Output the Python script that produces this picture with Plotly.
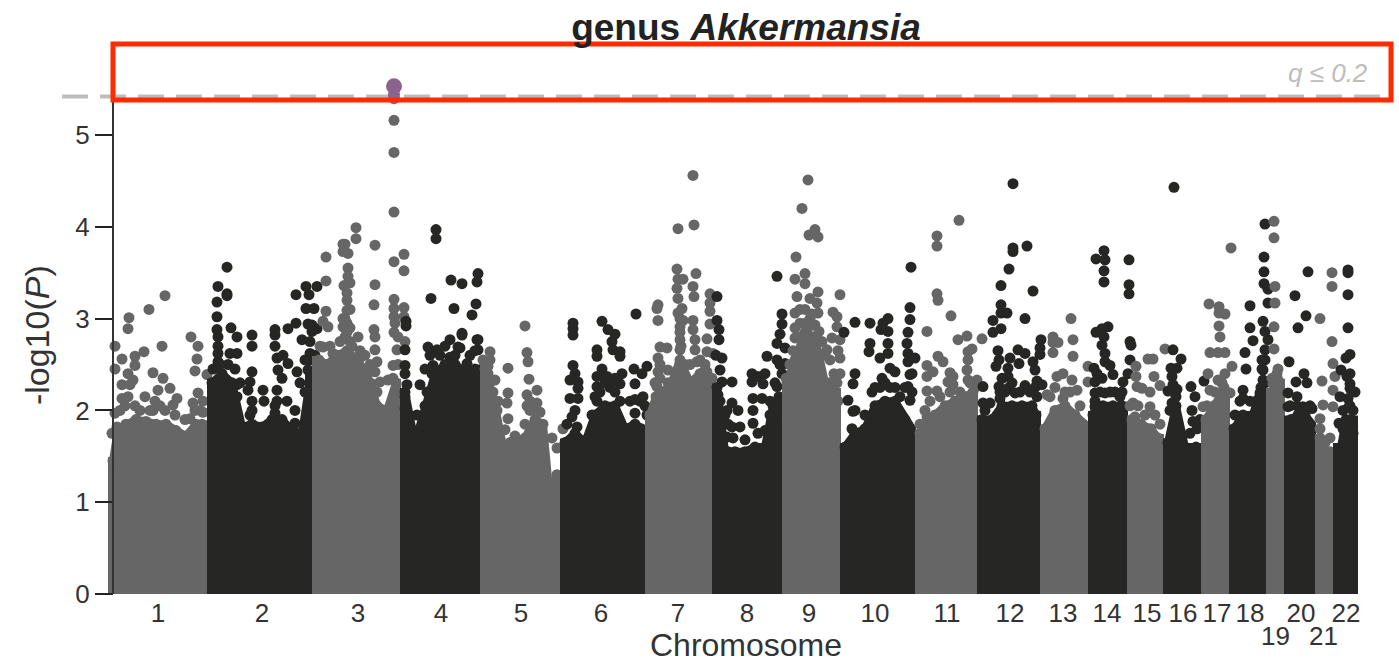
import plotly.graph_objects as go

GRAY = "#666666"
DARK = "#262624"
PURPLE = "#8A648F"
THRESHOLD = 5.42

TICK_NAMES = ["1","2","3","4","5","6","7","8","9","10","11","12","13","14","15","16","17","18","20","22"]
TICK_POS = [158,262,358,441,521,601,678,747,809,875,947,1010,1063,1107,1147,1183,1217,1250,1301,1346]
LOW_TICK_NAMES = ["19","21"]
LOW_TICK_POS = [1275,1323]
TOP_HITS = [(394,5.53),(394,5.44),(394,5.40)]
CHR_EDGES = [108,207,312,400,480,560,645,712,782,840,915,977,1040,1088,1127,1163,1201,1229,1266,1284,1315,1333,1357]

# body: (position, height of the solid mass); peaks: (position, -log10 P)
C1_BODY = [(113,1.45),(118,1.8),(126,1.85),(136,1.9),(146,1.88),(156,1.85),(166,1.85),(176,1.78),(186,1.72),(196,1.85),(202,1.85)]
C1_PEAKS = [(129,3.01),(149,3.10),(165,3.25),(128,2.89),(115,2.70),(144,2.64),(135,2.59),(122,2.56),(135,2.49),(115,2.45),(128,2.40),(162,2.70),(191,2.80),(198,2.70),(197,2.56),(195,2.43),(207,2.39),(153,2.41),(163,2.35),(158,2.22),(170,2.24),(177,2.13),(173,2.06),(145,2.15),(122,2.28),(130,2.28),(122,2.13),(198,2.19),(193,2.08),(203,2.10),(190,1.91),(115,1.97),(117,1.82),(153,2.00),(133,2.33),(125,2.05),(135,2.05),(150,2.0),(165,2.0),(112,1.75),(120,2.0),(128,2.15),(140,2.0),(155,2.1),(160,2.05),(175,1.95),(185,1.9),(195,2.0),(200,2.0),(203,1.98)]
C2_BODY = [(212,2.3),(222,2.4),(232,2.3),(242,1.82),(252,1.85),(262,1.82),(272,1.9),(282,1.9),(292,1.78),(302,1.75),(311,2.4)]
C2_PEAKS = [(227,3.56),(218,3.35),(227,3.27),(227,3.25),(217,3.18),(217,3.02),(231,2.90),(217,2.88),(275,2.88),(288,2.89),(296,2.95),(296,3.26),(306,3.35),(317,3.35),(309,3.26),(306,3.11),(314,3.11),(308,2.94),(312,2.93),(317,2.89),(218,2.80),(218,2.70),(218,2.62),(218,2.53),(230,2.62),(237,2.62),(237,2.80),(252,2.82),(252,2.70),(275,2.82),(275,2.70),(252,2.42),(250,2.31),(248,2.22),(263,2.22),(277,2.22),(282,2.35),(277,2.57),(283,2.60),(288,2.51),(297,2.42),(302,2.77),(310,2.62),(312,2.86),(308,2.44),(278,2.44),(264,2.10),(277,2.10),(287,2.10),(252,2.10),(250,1.95),(275,1.97),(295,1.86),(237,2.28),(237,2.15),(310,2.75),(310,2.55),(213,2.45),(220,2.5),(228,2.5),(235,2.45),(240,2.3),(315,2.6),(305,2.55),(314,2.4),(252,2.0),(275,2.05),(305,2.2),(295,2.0),(300,2.3)]
C3_BODY = [(319,2.55),(327,2.5),(337,2.6),(347,2.65),(357,2.55),(367,2.4),(377,2.05),(387,2.0),(396,2.3)]
C3_PEAKS = [(356,3.99),(356,3.87),(345,3.81),(343,3.81),(343,3.73),(348,3.71),(326,3.67),(375,3.80),(404,3.70),(394,3.62),(404,3.52),(348,3.55),(348,3.46),(350,3.39),(344,3.36),(347,3.28),(326,3.41),(375,3.37),(347,3.20),(347,3.09),(326,3.08),(374,3.15),(394,3.21),(394,3.11),(404,3.12),(394,3.02),(404,3.02),(323,2.97),(328,2.91),(347,2.95),(343,2.91),(374,2.88),(395,2.95),(394,5.16),(394,4.81),(394,4.16),(375,2.80),(375,2.66),(377,2.53),(375,2.42),(397,2.66),(393,2.49),(405,2.75),(358,2.80),(360,2.57),(333,2.62),(323,2.69),(372,2.29),(380,2.31),(388,2.33),(347,2.85),(350,2.75),(394,2.85),(398,2.8),(320,2.7),(330,2.7),(340,2.75),(345,2.8),(352,2.7),(360,2.65),(365,2.6),(370,2.5),(377,2.2),(393,2.35),(398,2.5),(345,3.0),(350,3.1),(350,2.9),(343,3.0)]
C4_BODY = [(405,2.2),(415,1.65),(425,2.05),(435,2.4),(445,2.5),(455,2.5),(465,2.42),(475,2.45)]
C4_PEAKS = [(436,3.97),(436,3.87),(431,3.22),(451,3.42),(462,3.38),(478,3.49),(477,3.40),(476,3.16),(454,3.11),(472,3.04),(406,2.97),(406,2.92),(462,2.84),(478,2.77),(478,2.66),(460,2.68),(405,2.66),(405,2.49),(405,2.40),(407,2.28),(405,2.15),(405,2.02),(417,1.95),(420,2.28),(428,2.69),(437,2.66),(450,2.77),(458,2.69),(462,2.82),(477,2.77),(433,2.49),(450,2.58),(467,2.51),(425,2.45),(430,2.6),(440,2.6),(445,2.7),(455,2.6),(470,2.6),(475,2.65),(427,2.2),(432,2.4)]
C5_BODY = [(485,2.45),(495,2.05),(505,1.5),(515,1.6),(525,1.7),(535,1.9),(543,1.85),(550,1.02),(557,1.3)]
C5_PEAKS = [(525,2.92),(527,2.63),(528,2.53),(508,2.46),(490,2.64),(488,2.48),(495,2.33),(529,2.34),(537,2.22),(508,2.19),(507,2.08),(527,2.17),(537,2.08),(497,2.00),(508,1.91),(505,1.79),(504,1.62),(552,1.70),(563,1.80),(557,1.59),(490,2.55),(527,2.05),(530,2.0),(483,2.55),(488,2.4),(493,2.2),(498,2.1),(490,2.3),(530,2.1),(535,2.0),(540,1.98),(525,1.85),(515,1.72),(510,1.65),(507,1.58)]
C6_BODY = [(565,1.65),(575,1.75),(585,1.65),(595,1.95),(605,2.05),(615,2.05),(625,1.8),(635,1.85),(641,1.8)]
C6_PEAKS = [(573,2.95),(573,2.89),(573,2.82),(602,2.97),(608,2.88),(615,2.83),(612,2.75),(597,2.66),(597,2.59),(613,2.66),(620,2.64),(620,2.59),(636,3.05),(573,2.49),(575,2.40),(570,2.33),(578,2.31),(578,2.24),(602,2.45),(597,2.37),(597,2.26),(607,2.37),(622,2.40),(620,2.29),(634,2.45),(647,2.48),(642,2.40),(570,2.13),(578,2.13),(575,2.00),(572,1.93),(597,2.10),(592,1.95),(635,2.29),(643,2.15),(635,1.97),(647,1.95),(577,1.82),(610,2.25),(615,2.35),(635,2.12),(595,2.15),(600,2.2),(605,2.3),(610,2.3),(615,2.2),(620,2.1),(630,2.1),(640,2.1),(645,2.05),(567,1.85)]
C7_BODY = [(650,1.95),(656,2.15),(660,2.2),(670,2.25),(680,2.55),(690,2.3),(700,2.4),(708,2.25)]
C7_PEAKS = [(693,4.56),(678,3.98),(694,4.02),(677,3.54),(696,3.49),(678,3.43),(683,3.43),(677,3.33),(693,3.35),(694,3.24),(710,3.27),(710,3.17),(710,3.08),(678,3.22),(682,3.11),(678,3.06),(683,2.98),(658,3.15),(657,3.11),(658,2.98),(693,2.98),(710,2.94),(680,2.91),(693,2.88),(707,2.78),(680,2.77),(695,2.77),(695,2.66),(660,2.69),(667,2.68),(707,2.64),(713,2.62),(658,2.57),(680,2.66),(658,2.42),(668,2.44),(697,2.53),(707,2.42),(657,2.26),(680,2.51),(680,3.0),(680,2.85),(681,2.7),(679,2.45),(685,2.5),(668,2.3),(660,2.35),(660,2.5),(655,2.3),(672,2.3),(690,2.5),(700,2.55),(705,2.5),(712,2.35),(708,2.3)]
C8_BODY = [(717,2.25),(725,1.55),(735,1.55),(745,1.55),(755,1.6),(765,1.6),(773,2.05),(779,2.15)]
C8_PEAKS = [(717,3.24),(717,2.98),(719,2.88),(719,2.77),(722,2.57),(720,2.44),(722,2.31),(732,2.31),(718,2.17),(732,2.08),(738,2.00),(727,2.00),(752,2.40),(752,2.31),(758,2.37),(765,2.40),(763,2.29),(767,2.59),(777,3.46),(782,3.05),(782,2.94),(780,2.83),(777,2.73),(785,2.68),(777,2.55),(785,2.51),(782,2.40),(777,2.26),(753,2.13),(762,2.13),(770,2.10),(753,2.00),(753,1.86),(772,1.88),(732,1.82),(727,1.71),(740,1.82),(728,1.55),(716,2.6),(720,2.1),(725,1.95),(728,1.85),(733,1.7),(775,2.3),(780,2.5),(778,2.05),(758,1.75),(770,1.95),(765,1.78),(745,1.68)]
C9_BODY = [(787,2.3),(795,2.55),(805,2.85),(815,2.8),(825,2.3),(834,2.2)]
C9_PEAKS = [(808,4.51),(802,4.20),(815,3.97),(809,3.91),(818,3.89),(796,3.67),(805,3.49),(795,3.43),(805,3.38),(818,3.29),(797,3.24),(810,3.22),(840,3.26),(817,3.17),(818,3.06),(795,3.06),(833,3.07),(837,3.02),(837,2.91),(815,2.93),(819,2.86),(832,2.79),(840,2.77),(795,2.79),(827,2.66),(840,2.57),(840,2.40),(792,2.26),(827,2.17),(827,2.06),(805,3.1),(810,3.0),(805,2.95),(838,2.65),(800,3.1),(800,2.95),(808,2.9),(795,2.9),(812,3.05),(815,2.8),(822,2.75),(825,2.6),(800,2.8),(790,2.5),(793,2.65),(830,2.55),(834,2.4),(837,2.3),(830,2.3),(838,2.1),(786,2.35)]
C10_BODY = [(845,1.6),(855,1.75),(865,1.8),(875,2.05),(885,2.1),(895,2.1),(905,1.9),(910,1.8)]
C10_PEAKS = [(855,2.96),(870,2.95),(844,2.85),(888,3.00),(883,2.95),(881,2.88),(888,2.86),(911,3.56),(910,3.12),(910,2.99),(908,2.85),(907,2.73),(888,2.73),(870,2.73),(869,2.64),(888,2.62),(880,2.57),(908,2.62),(908,2.53),(915,2.57),(890,2.46),(895,2.42),(910,2.39),(882,2.35),(855,2.40),(853,2.29),(848,2.11),(853,1.99),(872,2.20),(908,2.26),(910,2.11),(875,2.25),(880,2.25),(885,2.3),(890,2.25),(895,2.25),(900,2.15),(905,2.25),(912,2.4),(912,2.2),(855,2.0),(852,1.8),(865,1.95)]
C11_BODY = [(920,1.75),(925,1.85),(935,1.95),(945,2.05),(955,2.1),(965,2.15),(973,2.2)]
C11_PEAKS = [(959,4.07),(937,3.90),(937,3.79),(937,3.27),(938,3.20),(951,3.03),(927,2.86),(967,2.81),(958,2.77),(982,2.78),(938,2.59),(943,2.53),(972,2.67),(968,2.64),(968,2.55),(967,2.44),(927,2.49),(933,2.42),(927,2.37),(950,2.41),(953,2.37),(948,2.31),(953,2.28),(927,2.21),(937,2.21),(977,2.33),(968,2.33),(927,1.93),(930,2.1),(940,2.15),(950,2.2),(960,2.2),(970,2.3),(975,2.25),(925,2.0),(920,1.85)]
C12_BODY = [(982,1.9),(992,1.9),(1002,2.05),(1012,2.05),(1022,2.05),(1032,2.05),(1036,1.95)]
C12_PEAKS = [(1013,4.47),(1013,3.77),(1013,3.73),(1027,3.79),(1009,3.54),(1001,3.36),(1033,3.30),(1001,3.15),(1007,3.06),(1001,3.06),(1025,3.00),(993,2.98),(1001,2.89),(993,2.85),(1041,2.77),(1040,2.68),(1040,2.61),(998,2.65),(1018,2.66),(1025,2.62),(1010,2.57),(999,2.55),(1019,2.51),(1033,2.53),(996,2.48),(1035,2.44),(1008,2.46),(1008,2.37),(1002,2.35),(1037,2.32),(1042,2.28),(983,2.26),(999,2.26),(1025,2.27),(1008,2.24),(1015,2.19),(1000,2.13),(1037,2.15),(983,2.08),(990,2.08),(985,2.0),(1005,2.2),(1020,2.2),(1030,2.2),(1012,2.3),(1035,2.25),(1000,2.2)]
C13_BODY = [(1045,1.8),(1055,2.0),(1065,2.05),(1075,1.95),(1083,1.85)]
C13_PEAKS = [(1071,3.00),(1053,2.80),(1058,2.74),(1053,2.63),(1073,2.77),(1073,2.59),(1088,2.48),(1053,2.74),(1063,2.40),(1057,2.37),(1072,2.33),(1077,2.22),(1047,2.17),(1063,2.13),(1088,2.31),(1050,2.15),(1055,2.25),(1065,2.2),(1070,2.2),(1080,2.05)]
C14_BODY = [(1093,1.95),(1103,2.05),(1113,2.05),(1122,2.05)]
C14_PEAKS = [(1104,3.74),(1096,3.65),(1105,3.64),(1104,3.52),(1104,3.40),(1129,3.64),(1129,3.37),(1129,3.27),(1108,2.91),(1102,2.89),(1096,2.85),(1102,2.71),(1105,2.62),(1105,2.53),(1130,2.75),(1131,2.71),(1130,2.55),(1094,2.46),(1110,2.49),(1113,2.39),(1095,2.31),(1123,2.31),(1128,2.40),(1095,2.19),(1105,2.19),(1120,2.15),(1095,2.04),(1104,2.8),(1102,2.35),(1095,2.1),(1100,2.2),(1110,2.2),(1115,2.2),(1122,2.2),(1097,2.4)]
C15_BODY = [(1132,1.9),(1141,1.85),(1151,1.8),(1158,1.7)]
C15_PEAKS = [(1136,2.48),(1136,2.37),(1148,2.56),(1153,2.56),(1154,2.37),(1165,2.67),(1137,2.26),(1142,2.24),(1150,2.20),(1160,2.27),(1150,2.04),(1133,2.08),(1135,1.93),(1130,2.05),(1138,2.05),(1145,1.95),(1155,1.95),(1160,1.85)]
C16_BODY = [(1168,1.65),(1176,2.05),(1185,1.6),(1196,1.6)]
C16_PEAKS = [(1174,4.43),(1173,2.66),(1181,2.56),(1171,2.46),(1177,2.46),(1172,2.37),(1168,2.21),(1177,2.23),(1191,2.26),(1195,2.15),(1204,2.32),(1192,2.00),(1172,2.08),(1200,1.90),(1193,1.88),(1176,2.15),(1170,2.0),(1173,2.28),(1190,1.75),(1197,1.8)]
C17_BODY = [(1206,1.9),(1214,2.05),(1224,2.25)]
C17_PEAKS = [(1231,3.77),(1209,3.16),(1219,3.13),(1225,3.05),(1219,3.06),(1219,2.92),(1220,2.80),(1210,2.63),(1218,2.63),(1225,2.63),(1208,2.40),(1232,2.48),(1218,2.33),(1210,2.22),(1230,2.19),(1203,2.04),(1225,2.4),(1222,2.3),(1215,2.2),(1207,2.05)]
C18_BODY = [(1234,1.8),(1243,1.95),(1253,1.95),(1261,2.25)]
C18_PEAKS = [(1250,3.14),(1250,2.90),(1253,2.76),(1245,2.63),(1246,2.45),(1243,2.22),(1243,2.13),(1265,4.03),(1264,3.67),(1264,3.51),(1264,3.38),(1268,3.32),(1268,3.17),(1263,2.97),(1265,2.86),(1268,2.77),(1265,2.66),(1265,2.55),(1263,2.44),(1263,2.33),(1260,2.19),(1240,2.1),(1250,2.1),(1256,2.1),(1262,2.45),(1262,2.55),(1265,2.3),(1235,1.95)]
C19_BODY = [(1272,2.2),(1278,2.3)]
C19_PEAKS = [(1274,4.06),(1274,3.88),(1275,3.35),(1275,3.17),(1274,2.91),(1274,2.67),(1277,2.40),(1273,2.29),(1278,2.33),(1278,2.45),(1272,2.35)]
C20_BODY = [(1291,1.9),(1298,1.95),(1305,1.95),(1310,1.85)]
C20_PEAKS = [(1308,3.51),(1295,3.25),(1306,3.03),(1298,2.90),(1289,2.53),(1304,2.40),(1296,2.31),(1307,2.30),(1288,2.19),(1297,2.15),(1288,2.04),(1303,2.04),(1312,2.02),(1290,2.05),(1297,2.05),(1310,2.05)]
C21_BODY = [(1320,1.7),(1325,1.55),(1330,1.55)]
C21_PEAKS = [(1320,3.00),(1322,2.32),(1323,2.06),(1320,1.91),(1332,3.50),(1332,3.35),(1332,2.75),(1333,2.51),(1335,2.37),(1333,2.22),(1333,2.04),(1320,1.8),(1325,1.65),(1330,1.7)]
C22_BODY = [(1341,1.6),(1346,1.9),(1351,1.9)]
C22_PEAKS = [(1348,3.53),(1348,3.50),(1348,3.26),(1348,2.90),(1350,2.61),(1346,2.57),(1341,2.44),(1347,2.37),(1350,2.29),(1350,2.24),(1340,2.15),(1348,2.13),(1349,2.04),(1339,1.86),(1343,2.0),(1350,2.05),(1353,2.0),(1355,2.2),(1350,2.4),(1343,1.8),(1353,1.75)]

BODIES = [C1_BODY,C2_BODY,C3_BODY,C4_BODY,C5_BODY,C6_BODY,C7_BODY,C8_BODY,C9_BODY,C10_BODY,C11_BODY,C12_BODY,C13_BODY,C14_BODY,C15_BODY,C16_BODY,C17_BODY,C18_BODY,C19_BODY,C20_BODY,C21_BODY,C22_BODY]
PEAKS = [C1_PEAKS,C2_PEAKS,C3_PEAKS,C4_PEAKS,C5_PEAKS,C6_PEAKS,C7_PEAKS,C8_PEAKS,C9_PEAKS,C10_PEAKS,C11_PEAKS,C12_PEAKS,C13_PEAKS,C14_PEAKS,C15_PEAKS,C16_PEAKS,C17_PEAKS,C18_PEAKS,C19_PEAKS,C20_PEAKS,C21_PEAKS,C22_PEAKS]

W, H = 1399, 662
PLOT_BOTTOM = 600
PX_PER_UNIT = 91.8
ZERO_PX = 594
Y_RANGE = [-(PLOT_BOTTOM - ZERO_PX) / PX_PER_UNIT, ZERO_PX / PX_PER_UNIT]

fig = go.Figure()
for i, (body, peaks) in enumerate(zip(BODIES, PEAKS)):
    color = GRAY if i % 2 == 0 else DARK
    left, right = CHR_EDGES[i] + 4, CHR_EDGES[i + 1] - 3
    bx = [p[0] for p in body]
    by = [p[1] for p in body]
    fig.add_trace(go.Scatter(
        x=[left, left] + bx + [right, right], y=[0, by[0]] + by + [by[-1], 0],
        mode="lines", fill="toself", fillcolor=color,
        line=dict(color=color, width=8, shape="linear"),
        showlegend=False, hoverinfo="skip"))
    dots = body + peaks
    fig.add_trace(go.Scatter(
        x=[p[0] for p in dots], y=[p[1] for p in dots], mode="markers",
        marker=dict(color=color, size=11, line=dict(width=0)),
        showlegend=False, cliponaxis=False))

fig.add_trace(go.Scatter(
    x=[p[0] for p in TOP_HITS], y=[p[1] for p in TOP_HITS], mode="markers",
    marker=dict(color=PURPLE, size=[16, 12, 12], opacity=1, line=dict(width=0)),
    showlegend=False))

FONT = "Liberation Sans"
INK = "#333333"
annotations = [
    dict(x=n_x, y=(PLOT_BOTTOM - 636) / PLOT_BOTTOM, xref="x", yref="paper", text=n, showarrow=False,
         font=dict(family=FONT, size=26, color=INK), xanchor="center", yanchor="middle")
    for n, n_x in zip(LOW_TICK_NAMES, LOW_TICK_POS)
]
annotations += [
    dict(x=746, y=(PLOT_BOTTOM - 644.5) / PLOT_BOTTOM, xref="x", yref="paper", text="Chromosome", showarrow=False,
         font=dict(family=FONT, size=32, color=INK), xanchor="center", yanchor="middle"),
    dict(x=37, y=2.82, xref="x", yref="y", text="-log10(<i>P</i>)", textangle=-90, showarrow=False,
         font=dict(family=FONT, size=34, color=INK), xanchor="center", yanchor="middle"),
    dict(x=1370, y=5.67, xref="x", yref="y", text="<i>q ≤ 0.2</i>", showarrow=False,
         font=dict(family=FONT, size=26, color="#BDBDBD"), xanchor="right", yanchor="middle"),
]

shapes = [
    dict(type="line", xref="x", yref="y", x0=62, x1=1392, y0=THRESHOLD, y1=THRESHOLD,
         line=dict(color="#BDBDBD", width=4, dash="26px,12px"), layer="below"),
    dict(type="line", xref="x", yref="y", x0=113, x1=113, y0=0, y1=THRESHOLD,
         line=dict(color="#333333", width=2)),
    dict(type="rect", xref="x", yref="y", x0=113, x1=1391, y0=5.38, y1=5.99,
         line=dict(color="#FF2A00", width=5), fillcolor="rgba(0,0,0,0)"),
]

fig.update_layout(
    width=W, height=H, autosize=False,
    margin=dict(l=0, r=0, t=0, b=H - PLOT_BOTTOM, pad=0),
    paper_bgcolor="white", plot_bgcolor="white",
    showlegend=False,
    title=dict(text="<b>genus <i>Akkermansia</i></b>", x=746 / W, xanchor="center",
               y=1 - 27 / H, yanchor="middle", font=dict(family=FONT, size=37, color="#222222")),
    xaxis=dict(range=[0, W], tickvals=TICK_POS, ticktext=TICK_NAMES, ticks="", showgrid=False,
               zeroline=False, showline=False, tickangle=0, ticklabelstandoff=-5,
               tickfont=dict(family=FONT, size=26, color=INK)),
    yaxis=dict(range=Y_RANGE, anchor="free", position=113 / W, tickvals=[0, 1, 2, 3, 4, 5],
               ticks="outside", ticklen=18, tickwidth=2, tickcolor="#222222",
               showgrid=False, zeroline=False, showline=False,
               tickfont=dict(family=FONT, size=26, color=INK)),
    annotations=annotations, shapes=shapes,
)
fig.write_html("out.html", config={"displayModeBar": False},
               post_script="document.body.style.margin='0';document.documentElement.style.overflow='hidden';")
